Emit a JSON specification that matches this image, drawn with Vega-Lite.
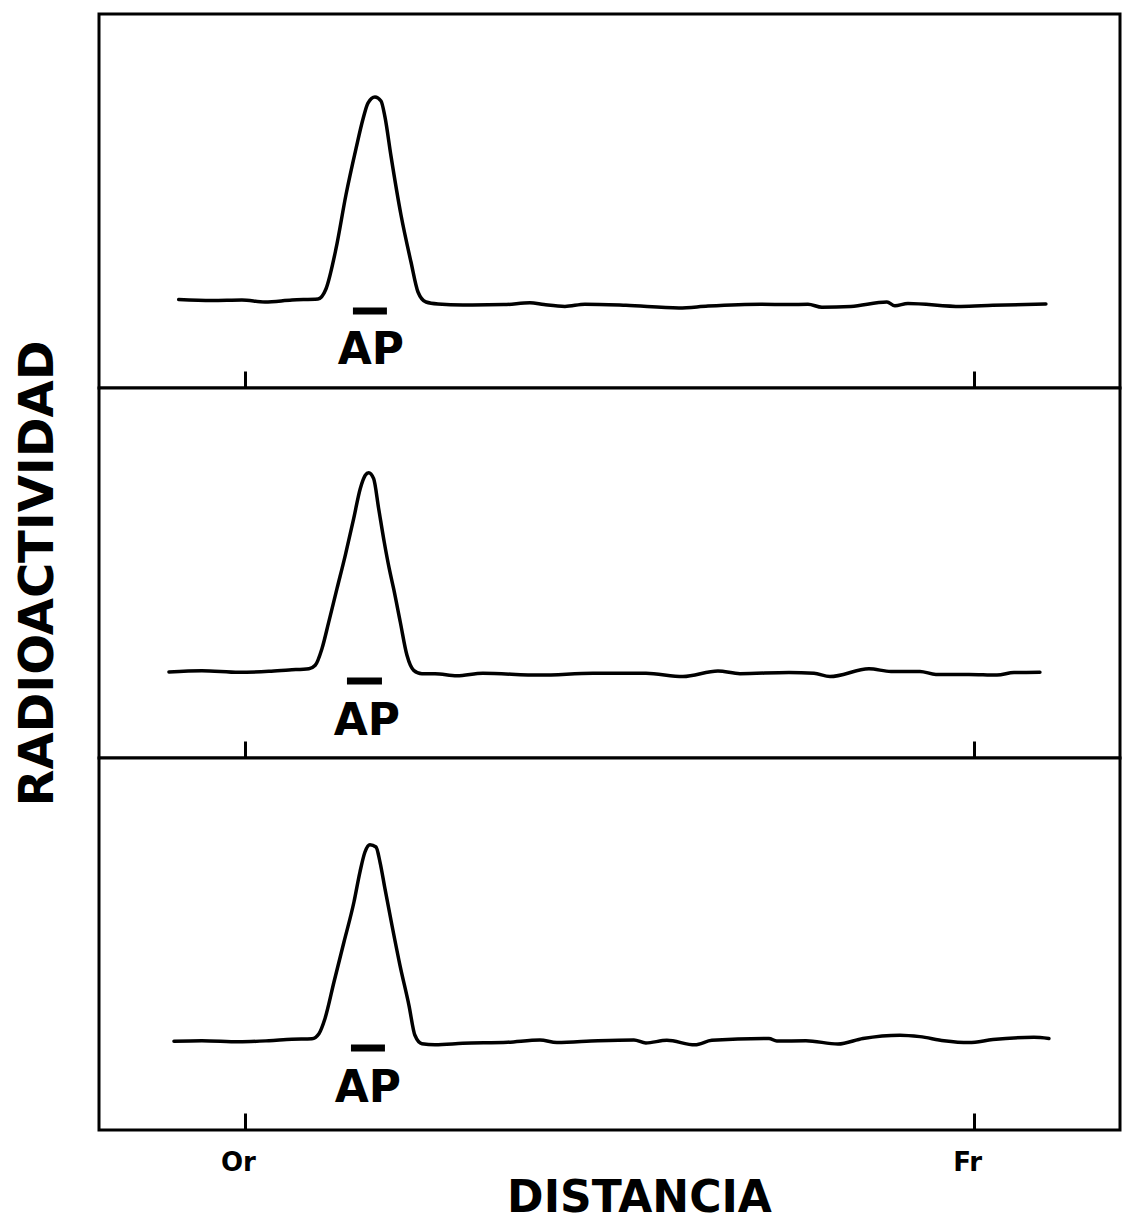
{
  "$schema": "https://vega.github.io/schema/vega-lite/v6.json",
  "background": "white",
  "padding": {"left": 12, "top": 12, "right": 5, "bottom": 0},
  "spacing": 0,
  "bounds": "flush",
  "config": {
    "font": "DejaVu Sans",
    "view": {"stroke": "black", "strokeWidth": 3, "fill": "white"},
    "axis": {"minExtent": 0}
  },
  "datasets": {
    "trace": [
      {"panel": 1, "distance": -0.908, "activity": 23.66},
      {"panel": 1, "distance": -0.451, "activity": 23.40},
      {"panel": 1, "distance": -0.040, "activity": 23.53},
      {"panel": 1, "distance": 0.276, "activity": 22.99},
      {"panel": 1, "distance": 0.646, "activity": 23.53},
      {"panel": 1, "distance": 1.002, "activity": 23.80},
      {"panel": 1, "distance": 1.112, "activity": 26.47},
      {"panel": 1, "distance": 1.249, "activity": 37.17},
      {"panel": 1, "distance": 1.386, "activity": 51.60},
      {"panel": 1, "distance": 1.524, "activity": 64.00},
      {"panel": 1, "distance": 1.620, "activity": 71.93},
      {"panel": 1, "distance": 1.688, "activity": 76.20},
      {"panel": 1, "distance": 1.784, "activity": 77.81},
      {"panel": 1, "distance": 1.867, "activity": 76.74},
      {"panel": 1, "distance": 1.921, "activity": 72.50},
      {"panel": 1, "distance": 2.004, "activity": 62.00},
      {"panel": 1, "distance": 2.141, "activity": 46.26},
      {"panel": 1, "distance": 2.278, "activity": 33.69},
      {"panel": 1, "distance": 2.374, "activity": 25.67},
      {"panel": 1, "distance": 2.484, "activity": 22.99},
      {"panel": 1, "distance": 2.648, "activity": 22.46},
      {"panel": 1, "distance": 2.990, "activity": 22.20},
      {"panel": 1, "distance": 3.552, "activity": 22.30},
      {"panel": 1, "distance": 3.909, "activity": 22.80},
      {"panel": 1, "distance": 4.101, "activity": 22.30},
      {"panel": 1, "distance": 4.389, "activity": 21.80},
      {"panel": 1, "distance": 4.663, "activity": 22.40},
      {"panel": 1, "distance": 5.225, "activity": 22.10},
      {"panel": 1, "distance": 5.952, "activity": 21.40},
      {"panel": 1, "distance": 6.350, "activity": 21.90},
      {"panel": 1, "distance": 7.076, "activity": 22.40},
      {"panel": 1, "distance": 7.460, "activity": 22.30},
      {"panel": 1, "distance": 7.721, "activity": 22.40},
      {"panel": 1, "distance": 7.913, "activity": 21.60},
      {"panel": 1, "distance": 8.310, "activity": 21.80},
      {"panel": 1, "distance": 8.804, "activity": 23.00},
      {"panel": 1, "distance": 8.913, "activity": 22.00},
      {"panel": 1, "distance": 9.092, "activity": 22.60},
      {"panel": 1, "distance": 9.818, "activity": 21.80},
      {"panel": 1, "distance": 10.257, "activity": 22.10},
      {"panel": 1, "distance": 10.984, "activity": 22.46},

      {"panel": 2, "distance": -1.041, "activity": 23.24},
      {"panel": 2, "distance": -0.588, "activity": 23.60},
      {"panel": 2, "distance": -0.081, "activity": 23.15},
      {"panel": 2, "distance": 0.330, "activity": 23.43},
      {"panel": 2, "distance": 0.605, "activity": 23.80},
      {"panel": 2, "distance": 0.879, "activity": 24.14},
      {"panel": 2, "distance": 0.965, "activity": 25.05},
      {"panel": 2, "distance": 1.057, "activity": 29.54},
      {"panel": 2, "distance": 1.149, "activity": 36.65},
      {"panel": 2, "distance": 1.263, "activity": 45.76},
      {"panel": 2, "distance": 1.377, "activity": 54.78},
      {"panel": 2, "distance": 1.492, "activity": 64.68},
      {"panel": 2, "distance": 1.582, "activity": 72.78},
      {"panel": 2, "distance": 1.651, "activity": 76.41},
      {"panel": 2, "distance": 1.698, "activity": 77.11},
      {"panel": 2, "distance": 1.766, "activity": 75.49},
      {"panel": 2, "distance": 1.835, "activity": 67.38},
      {"panel": 2, "distance": 1.911, "activity": 58.38},
      {"panel": 2, "distance": 1.980, "activity": 51.16},
      {"panel": 2, "distance": 2.040, "activity": 45.76},
      {"panel": 2, "distance": 2.131, "activity": 36.76},
      {"panel": 2, "distance": 2.223, "activity": 27.75},
      {"panel": 2, "distance": 2.315, "activity": 23.70},
      {"panel": 2, "distance": 2.428, "activity": 22.78},
      {"panel": 2, "distance": 2.607, "activity": 22.78},
      {"panel": 2, "distance": 2.907, "activity": 22.20},
      {"panel": 2, "distance": 3.264, "activity": 22.90},
      {"panel": 2, "distance": 4.046, "activity": 22.40},
      {"panel": 2, "distance": 4.773, "activity": 22.90},
      {"panel": 2, "distance": 5.500, "activity": 22.90},
      {"panel": 2, "distance": 6.007, "activity": 22.00},
      {"panel": 2, "distance": 6.487, "activity": 23.50},
      {"panel": 2, "distance": 6.789, "activity": 22.80},
      {"panel": 2, "distance": 7.461, "activity": 23.10},
      {"panel": 2, "distance": 7.803, "activity": 22.90},
      {"panel": 2, "distance": 8.023, "activity": 22.00},
      {"panel": 2, "distance": 8.558, "activity": 24.10},
      {"panel": 2, "distance": 8.859, "activity": 23.40},
      {"panel": 2, "distance": 9.257, "activity": 23.40},
      {"panel": 2, "distance": 9.476, "activity": 22.60},
      {"panel": 2, "distance": 9.929, "activity": 22.60},
      {"panel": 2, "distance": 10.313, "activity": 22.40},
      {"panel": 2, "distance": 10.546, "activity": 23.10},
      {"panel": 2, "distance": 10.902, "activity": 23.20},

      {"panel": 3, "distance": -0.972, "activity": 23.84},
      {"panel": 3, "distance": -0.588, "activity": 24.00},
      {"panel": 3, "distance": -0.081, "activity": 23.70},
      {"panel": 3, "distance": 0.330, "activity": 24.00},
      {"panel": 3, "distance": 0.646, "activity": 24.40},
      {"panel": 3, "distance": 0.920, "activity": 24.54},
      {"panel": 3, "distance": 1.016, "activity": 25.89},
      {"panel": 3, "distance": 1.098, "activity": 29.92},
      {"panel": 3, "distance": 1.222, "activity": 39.78},
      {"panel": 3, "distance": 1.359, "activity": 50.54},
      {"panel": 3, "distance": 1.496, "activity": 61.29},
      {"panel": 3, "distance": 1.578, "activity": 69.35},
      {"panel": 3, "distance": 1.647, "activity": 74.73},
      {"panel": 3, "distance": 1.715, "activity": 76.69},
      {"panel": 3, "distance": 1.798, "activity": 76.08},
      {"panel": 3, "distance": 1.853, "activity": 72.04},
      {"panel": 3, "distance": 1.921, "activity": 64.87},
      {"panel": 3, "distance": 2.017, "activity": 55.03},
      {"panel": 3, "distance": 2.127, "activity": 44.27},
      {"panel": 3, "distance": 2.250, "activity": 33.52},
      {"panel": 3, "distance": 2.332, "activity": 25.46},
      {"panel": 3, "distance": 2.428, "activity": 23.20},
      {"panel": 3, "distance": 2.607, "activity": 22.93},
      {"panel": 3, "distance": 2.990, "activity": 23.30},
      {"panel": 3, "distance": 3.607, "activity": 23.60},
      {"panel": 3, "distance": 4.046, "activity": 24.20},
      {"panel": 3, "distance": 4.279, "activity": 23.50},
      {"panel": 3, "distance": 4.841, "activity": 24.00},
      {"panel": 3, "distance": 5.335, "activity": 24.20},
      {"panel": 3, "distance": 5.499, "activity": 23.40},
      {"panel": 3, "distance": 5.787, "activity": 24.10},
      {"panel": 3, "distance": 6.171, "activity": 22.90},
      {"panel": 3, "distance": 6.404, "activity": 24.10},
      {"panel": 3, "distance": 7.186, "activity": 24.60},
      {"panel": 3, "distance": 7.295, "activity": 23.90},
      {"panel": 3, "distance": 7.693, "activity": 24.00},
      {"panel": 3, "distance": 8.132, "activity": 23.10},
      {"panel": 3, "distance": 8.475, "activity": 24.60},
      {"panel": 3, "distance": 8.982, "activity": 25.50},
      {"panel": 3, "distance": 9.256, "activity": 25.10},
      {"panel": 3, "distance": 9.586, "activity": 24.00},
      {"panel": 3, "distance": 9.928, "activity": 23.50},
      {"panel": 3, "distance": 10.257, "activity": 24.30},
      {"panel": 3, "distance": 10.819, "activity": 24.90},
      {"panel": 3, "distance": 11.025, "activity": 24.60}
    ],
    "ap": [
      {"panel": 1, "label": "AP", "bar_start": 1.482, "bar_end": 1.948, "bar_y": 20.59, "label_x": 1.729, "label_y": 9.89},
      {"panel": 2, "label": "AP", "bar_start": 1.400, "bar_end": 1.880, "bar_y": 20.81, "label_x": 1.674, "label_y": 9.73},
      {"panel": 3, "label": "AP", "bar_start": 1.455, "bar_end": 1.921, "bar_y": 22.04, "label_x": 1.688, "label_y": 11.02}
    ]
  },
  "vconcat": [
    {
      "width": 1021,
      "height": 374,
      "layer": [
        {
          "data": {"name": "trace"},
          "transform": [{"filter": "datum.panel == 1"}],
          "mark": {"type": "line", "color": "black", "strokeWidth": 3.5, "interpolate": "monotone", "strokeJoin": "round", "strokeCap": "round"},
          "encoding": {
            "x": {"field": "distance", "type": "quantitative", "scale": {"domain": [-2, 12]},
              "axis": {"values": [0, 10], "labels": false, "domain": false, "grid": false, "tickSize": -17, "tickWidth": 3, "tickColor": "black", "title": null}},
            "y": {"field": "activity", "type": "quantitative", "scale": {"domain": [0, 100]}, "axis": null}
          }
        },
        {
          "data": {"name": "ap"},
          "transform": [{"filter": "datum.panel == 1"}],
          "mark": {"type": "rule", "color": "black", "strokeWidth": 7},
          "encoding": {
            "x": {"field": "bar_start", "type": "quantitative", "scale": {"domain": [-2, 12]},
              "axis": {"values": [0, 10], "labels": false, "domain": false, "grid": false, "tickSize": -17, "tickWidth": 3, "tickColor": "black", "title": null}},
            "x2": {"field": "bar_end"},
            "y": {"field": "bar_y", "type": "quantitative", "scale": {"domain": [0, 100]}, "axis": null}
          }
        },
        {
          "data": {"name": "ap"},
          "transform": [{"filter": "datum.panel == 1"}],
          "mark": {"type": "text", "color": "black", "fontSize": 44, "fontWeight": "bold", "align": "center", "baseline": "middle"},
          "encoding": {
            "x": {"field": "label_x", "type": "quantitative", "scale": {"domain": [-2, 12]},
              "axis": {"values": [0, 10], "labels": false, "domain": false, "grid": false, "tickSize": -17, "tickWidth": 3, "tickColor": "black", "title": null}},
            "y": {"field": "label_y", "type": "quantitative", "scale": {"domain": [0, 100]}, "axis": null},
            "text": {"field": "label"}
          }
        }
      ]
    },
    {
      "width": 1021,
      "height": 370,
      "layer": [
        {
          "data": {"name": "trace"},
          "transform": [{"filter": "datum.panel == 2"}],
          "mark": {"type": "line", "color": "black", "strokeWidth": 3.5, "interpolate": "monotone", "strokeJoin": "round", "strokeCap": "round"},
          "encoding": {
            "x": {"field": "distance", "type": "quantitative", "scale": {"domain": [-2, 12]},
              "axis": {"values": [0, 10], "labels": false, "domain": false, "grid": false, "tickSize": -17, "tickWidth": 3, "tickColor": "black", "title": null}},
            "y": {"field": "activity", "type": "quantitative", "scale": {"domain": [0, 100]},
              "axis": {"title": "RADIOACTIVIDAD", "labels": false, "ticks": false, "domain": false, "grid": false, "titleFontSize": 48, "titleFontWeight": "bold", "titleColor": "black", "titlePadding": 37, "titleFont": "DejaVu Sans"}}
          }
        },
        {
          "data": {"name": "ap"},
          "transform": [{"filter": "datum.panel == 2"}],
          "mark": {"type": "rule", "color": "black", "strokeWidth": 7},
          "encoding": {
            "x": {"field": "bar_start", "type": "quantitative", "scale": {"domain": [-2, 12]},
              "axis": {"values": [0, 10], "labels": false, "domain": false, "grid": false, "tickSize": -17, "tickWidth": 3, "tickColor": "black", "title": null}},
            "x2": {"field": "bar_end"},
            "y": {"field": "bar_y", "type": "quantitative", "scale": {"domain": [0, 100]},
              "axis": {"title": "RADIOACTIVIDAD", "labels": false, "ticks": false, "domain": false, "grid": false, "titleFontSize": 48, "titleFontWeight": "bold", "titleColor": "black", "titlePadding": 37, "titleFont": "DejaVu Sans"}}
          }
        },
        {
          "data": {"name": "ap"},
          "transform": [{"filter": "datum.panel == 2"}],
          "mark": {"type": "text", "color": "black", "fontSize": 44, "fontWeight": "bold", "align": "center", "baseline": "middle"},
          "encoding": {
            "x": {"field": "label_x", "type": "quantitative", "scale": {"domain": [-2, 12]},
              "axis": {"values": [0, 10], "labels": false, "domain": false, "grid": false, "tickSize": -17, "tickWidth": 3, "tickColor": "black", "title": null}},
            "y": {"field": "label_y", "type": "quantitative", "scale": {"domain": [0, 100]},
              "axis": {"title": "RADIOACTIVIDAD", "labels": false, "ticks": false, "domain": false, "grid": false, "titleFontSize": 48, "titleFontWeight": "bold", "titleColor": "black", "titlePadding": 37, "titleFont": "DejaVu Sans"}},
            "text": {"field": "label"}
          }
        }
      ]
    },
    {
      "width": 1021,
      "height": 372,
      "layer": [
        {
          "data": {"name": "trace"},
          "transform": [{"filter": "datum.panel == 3"}],
          "mark": {"type": "line", "color": "black", "strokeWidth": 3.5, "interpolate": "monotone", "strokeJoin": "round", "strokeCap": "round"},
          "encoding": {
            "x": {"field": "distance", "type": "quantitative", "scale": {"domain": [-2, 12]},
              "axis": {"values": [0, 10], "labelExpr": "datum.value == 0 ? 'Or' : 'Fr'", "labelFontSize": 26, "labelFontWeight": "bold", "labelColor": "black", "labelPadding": 36, "labelOffset": -7, "labelBaseline": "top", "domain": false, "grid": false, "tickSize": -17, "tickWidth": 3, "tickColor": "black", "title": "DISTANCIA", "titleFontSize": 44, "titleFontWeight": "bold", "titleColor": "black", "titlePadding": 1, "titleX": 540, "titleFont": "DejaVu Sans"}},
            "y": {"field": "activity", "type": "quantitative", "scale": {"domain": [0, 100]}, "axis": null}
          }
        },
        {
          "data": {"name": "ap"},
          "transform": [{"filter": "datum.panel == 3"}],
          "mark": {"type": "rule", "color": "black", "strokeWidth": 7},
          "encoding": {
            "x": {"field": "bar_start", "type": "quantitative", "scale": {"domain": [-2, 12]},
              "axis": {"values": [0, 10], "labelExpr": "datum.value == 0 ? 'Or' : 'Fr'", "labelFontSize": 26, "labelFontWeight": "bold", "labelColor": "black", "labelPadding": 36, "labelOffset": -7, "labelBaseline": "top", "domain": false, "grid": false, "tickSize": -17, "tickWidth": 3, "tickColor": "black", "title": "DISTANCIA", "titleFontSize": 44, "titleFontWeight": "bold", "titleColor": "black", "titlePadding": 1, "titleX": 540, "titleFont": "DejaVu Sans"}},
            "x2": {"field": "bar_end"},
            "y": {"field": "bar_y", "type": "quantitative", "scale": {"domain": [0, 100]}, "axis": null}
          }
        },
        {
          "data": {"name": "ap"},
          "transform": [{"filter": "datum.panel == 3"}],
          "mark": {"type": "text", "color": "black", "fontSize": 44, "fontWeight": "bold", "align": "center", "baseline": "middle"},
          "encoding": {
            "x": {"field": "label_x", "type": "quantitative", "scale": {"domain": [-2, 12]},
              "axis": {"values": [0, 10], "labelExpr": "datum.value == 0 ? 'Or' : 'Fr'", "labelFontSize": 26, "labelFontWeight": "bold", "labelColor": "black", "labelPadding": 36, "labelOffset": -7, "labelBaseline": "top", "domain": false, "grid": false, "tickSize": -17, "tickWidth": 3, "tickColor": "black", "title": "DISTANCIA", "titleFontSize": 44, "titleFontWeight": "bold", "titleColor": "black", "titlePadding": 1, "titleX": 540, "titleFont": "DejaVu Sans"}},
            "y": {"field": "label_y", "type": "quantitative", "scale": {"domain": [0, 100]}, "axis": null},
            "text": {"field": "label"}
          }
        }
      ]
    }
  ]
}
